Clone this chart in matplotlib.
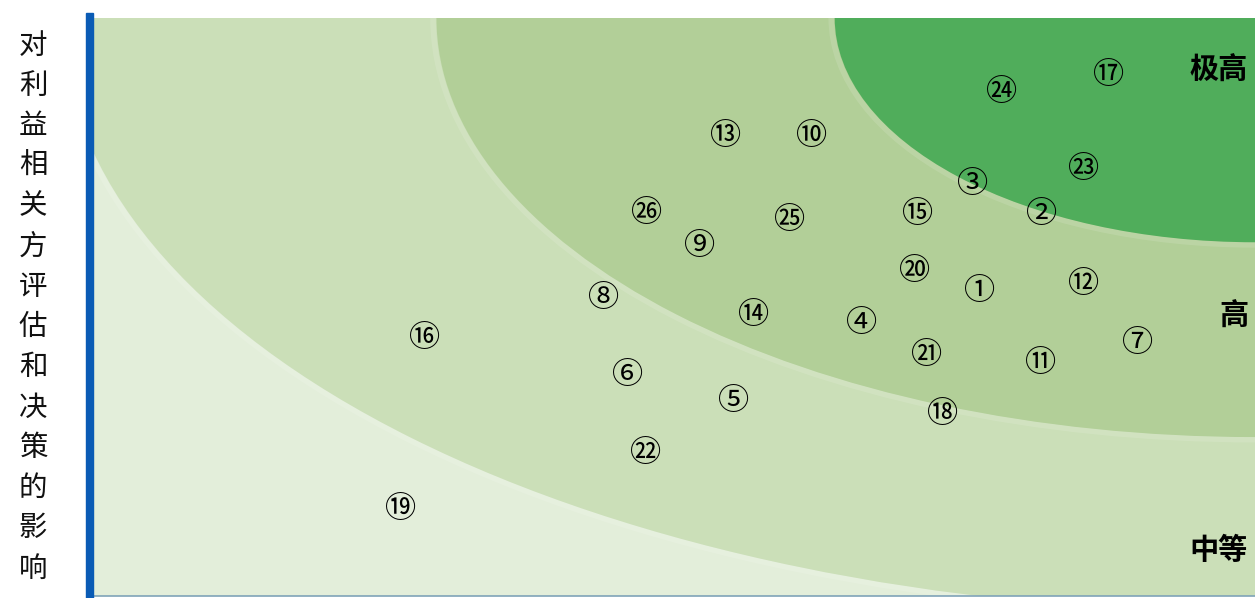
import matplotlib
matplotlib.use("Agg")
import matplotlib.pyplot as plt
from matplotlib.patches import Ellipse
from matplotlib.transforms import ScaledTranslation

plt.rcParams['font.family'] = ['Noto Sans CJK SC', 'DejaVu Sans']

# ---- data ----
ylabel_text = "对利益相关方评估和决策的影响"
zone_labels = ["极高", "高", "中等"]
zone_label_y = [91.5, 49.0, 8.5]
# zone boundaries: quarter-ellipse radii measured from the top-right corner
zone_rx = [102.7, 70.5, 36.2]
zone_ry = [102.8, 72.5, 38.8]
zone_colors = ["#CBDFB8", "#B2CF98", "#50AD5B"]
background_color = "#E3EEDA"

ids = ["①", "②", "③", "④", "⑤", "⑥", "⑦", "⑧", "⑨", "⑩", "⑪", "⑫", "⑬",
       "⑭", "⑮", "⑯", "⑰", "⑱", "⑲", "⑳", "㉑", "㉒", "㉓", "㉔", "㉕", "㉖"]
x_vals = [76.3, 81.6, 75.7, 66.1, 55.1, 46.0, 89.9, 43.9, 52.2, 61.8, 81.5, 85.2, 54.4,
          56.8, 70.9, 28.5, 87.4, 73.1, 26.4, 70.7, 71.7, 47.5, 85.2, 78.2, 59.9, 47.6]
y_vals = [53.3, 66.6, 71.8, 47.8, 34.3, 38.8, 44.3, 52.1, 61.1, 80.1, 40.8, 54.5, 80.1,
          49.1, 66.6, 45.2, 90.7, 32.0, 15.6, 56.7, 42.2, 25.3, 74.4, 87.7, 65.6, 66.8]

W, H = 1255, 598
fig = plt.figure(figsize=(W / 100, H / 100), dpi=100)
fig.patch.set_facecolor("white")

ax = fig.add_axes([94 / W, 2 / H, (W - 94) / W, (596 - 18) / H])
ax.set_xlim(0, 100)
ax.set_ylim(0, 100)
ax.set_facecolor(background_color)
for s in ["top", "left", "right"]:
    ax.spines[s].set_visible(False)
ax.spines["bottom"].set_color("#7FA3B8")
ax.spines["bottom"].set_linewidth(1.2)
ax.set_xticks([])
ax.set_yticks([])

for rx, ry, c in zip(zone_rx, zone_ry, zone_colors):
    # soft halo along boundary
    ax.add_patch(Ellipse((100, 100), 2 * rx + 0.6, 2 * ry + 0.9, facecolor="none",
                         edgecolor="white", alpha=0.12, linewidth=4, zorder=1))
    ax.add_patch(Ellipse((100, 100), 2 * rx, 2 * ry, facecolor=c, edgecolor="none", zorder=1))

down = ax.transData + ScaledTranslation(0, -3 / 100, fig.dpi_scale_trans)
for t, x, y in zip(ids, x_vals, y_vals):
    ax.text(x, y, t, fontsize=22.5, ha="center", va="center", color="black",
            zorder=3, transform=down)

for lab, y in zip(zone_labels, zone_label_y):
    ax.text(99.4, y, lab, fontsize=21, ha="right", va="center", color="black",
            fontweight="bold", zorder=3, transform=down)

# blue bar on the left
fig.add_artist(plt.Rectangle((86 / W, 0), 7 / W, (598 - 13) / H,
                             transform=fig.transFigure, color="#0A5BB5", zorder=5))

# vertical label
fig.text(33 / W, 1 - 307 / H, "\n".join(ylabel_text), fontsize=20.5, ha="center",
         va="center", linespacing=1.445, color="#111111")

fig.savefig("out.png", dpi=100)
